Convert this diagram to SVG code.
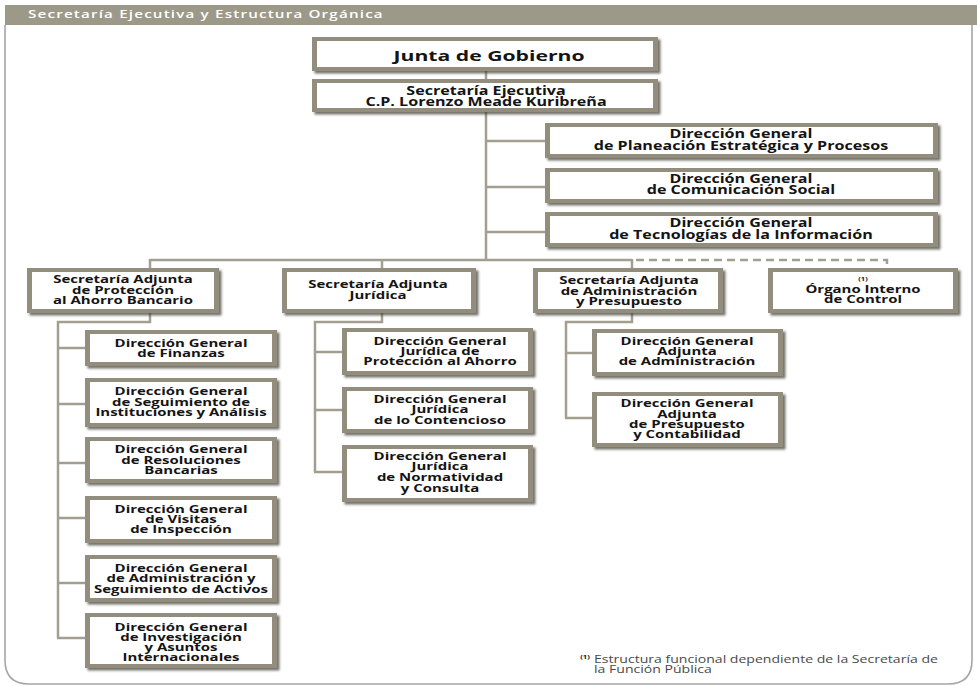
<svg xmlns="http://www.w3.org/2000/svg" width="977" height="686" viewBox="0 0 977 686">
<defs>
<filter id="sh" x="-10%" y="-20%" width="130%" height="160%">
<feDropShadow dx="2.5" dy="2.5" stdDeviation="1" flood-color="#3a372f" flood-opacity="0.7"/>
</filter>
<style>
.frame{fill:#928d7d;filter:url(#sh)}
.inner{fill:#ffffff}
.n{font-family:"Open Sans","Liberation Sans",sans-serif;font-weight:700;font-size:11.5px;fill:#141414;text-anchor:middle}
.s{font-size:11px}
.big{font-size:14.5px}
.sup{font-size:5.5px}
.c{fill:none;stroke:#a39f90;stroke-width:2.5}
.d{fill:none;stroke:#a39f90;stroke-width:2.5;stroke-dasharray:8 5}
.hdr{font-family:"Open Sans","Liberation Sans",sans-serif;font-weight:600;font-size:10.5px;fill:#ffffff;letter-spacing:0.8px}
.fn{font-family:"Open Sans","Liberation Sans",sans-serif;font-weight:400;font-size:10.5px;fill:#4a4a4a}
</style>
</defs>
<rect x="0" y="0" width="977" height="686" fill="#ffffff"/>
<g id="panel">
<path d="M5,25 V660 Q5,684 29,684 H948 Q972,684 972,660 V25" fill="#ffffff" stroke="#a6a6a6" stroke-width="1.6"/>
<rect x="5" y="5" width="972" height="20" fill="#9d9989"/>
<text class="hdr" transform="translate(28 0) scale(1.45 1)" x="0" y="18.5">Secretaría Ejecutiva y Estructura Orgánica</text>
</g>
<g id="connectors">
<path class="c" d="M486,71 V79 M486,112 V260 M486,141 H545 M486,187 H545 M486,232 H545"/>
<path class="c" d="M150,260 H632 M150,259 V268 M382,259 V268 M632,259 V268"/>
<path class="d" d="M636,260 H887 V268"/>
<path class="c" d="M150,313 V322 H58 V638 M58,348 H85 M58,404 H85 M58,463 H85 M58,518 H85 M58,583 H85 M57,638 H85"/>
<path class="c" d="M382,313 V322 H315 V472 M315,352 H342 M315,410 H342 M314,472 H342"/>
<path class="c" d="M632,313 V322 H566 V418 M566,353 H592 M565,418 H592"/>
</g>
<g id="junta">
<rect class="frame" x="312" y="37" width="346" height="34"/><rect class="inner" x="317" y="41" width="336" height="26"/>
<text class="n big" transform="translate(489 0) scale(1.46 1)"><tspan x="0" y="61">Junta de Gobierno</tspan></text>
</g>
<g id="secretaria-ejecutiva">
<rect class="frame" x="312" y="79" width="346" height="33"/><rect class="inner" x="317" y="83" width="336" height="25"/>
<text class="n" transform="translate(486 0) scale(1.4 1)"><tspan x="0" y="95">Secretaría Ejecutiva</tspan><tspan x="0" y="106">C.P. Lorenzo Meade Kuribreña</tspan></text>
</g>
<g id="dg-planeacion">
<rect class="frame" x="545" y="123" width="393" height="35"/><rect class="inner" x="550" y="127" width="383" height="27"/>
<text class="n" transform="translate(741 0) scale(1.4 1)"><tspan x="0" y="138">Dirección General</tspan><tspan x="0" y="150">de Planeación Estratégica y Procesos</tspan></text>
</g>
<g id="dg-comunicacion">
<rect class="frame" x="545" y="168" width="393" height="35"/><rect class="inner" x="550" y="172" width="383" height="27"/>
<text class="n" transform="translate(741 0) scale(1.4 1)"><tspan x="0" y="183">Dirección General</tspan><tspan x="0" y="194">de Comunicación Social</tspan></text>
</g>
<g id="dg-tecnologias">
<rect class="frame" x="545" y="212" width="393" height="35"/><rect class="inner" x="550" y="216" width="383" height="27"/>
<text class="n" transform="translate(741 0) scale(1.4 1)"><tspan x="0" y="227">Dirección General</tspan><tspan x="0" y="239">de Tecnologías de la Información</tspan></text>
</g>
<g id="sa-proteccion">
<rect class="frame" x="27" y="268" width="192" height="45"/><rect class="inner" x="32" y="272" width="182" height="37"/>
<text class="n s" transform="translate(123 0) scale(1.36 1)"><tspan x="0" y="283">Secretaría Adjunta</tspan><tspan x="0" y="294">de Protección</tspan><tspan x="0" y="304">al Ahorro Bancario</tspan></text>
</g>
<g id="sa-juridica">
<rect class="frame" x="282" y="268" width="194" height="45"/><rect class="inner" x="287" y="272" width="184" height="37"/>
<text class="n s" transform="translate(378 0) scale(1.36 1)"><tspan x="0" y="288">Secretaría Adjunta</tspan><tspan x="0" y="299">Jurídica</tspan></text>
</g>
<g id="sa-administracion">
<rect class="frame" x="533" y="268" width="190" height="45"/><rect class="inner" x="538" y="272" width="180" height="37"/>
<text class="n s" transform="translate(629 0) scale(1.36 1)"><tspan x="0" y="284">Secretaría Adjunta</tspan><tspan x="0" y="295">de Administración</tspan><tspan x="0" y="305">y Presupuesto</tspan></text>
</g>
<g id="organo-interno">
<rect class="frame" x="768" y="268" width="190" height="45"/><rect class="inner" x="773" y="272" width="180" height="37"/>
<text class="n s" transform="translate(863 0) scale(1.36 1)"><tspan class="sup" x="0" y="281">(1)</tspan><tspan x="0" y="293">Órgano Interno</tspan><tspan x="0" y="303">de Control</tspan></text>
</g>
<g id="dg-finanzas">
<rect class="frame" x="85" y="330" width="192" height="36"/><rect class="inner" x="90" y="334" width="182" height="28"/>
<text class="n s" transform="translate(181 0) scale(1.36 1)"><tspan x="0" y="347">Dirección General</tspan><tspan x="0" y="357">de Finanzas</tspan></text>
</g>
<g id="dg-seguimiento">
<rect class="frame" x="85" y="378" width="192" height="49"/><rect class="inner" x="90" y="382" width="182" height="41"/>
<text class="n s" transform="translate(181 0) scale(1.36 1)"><tspan x="0" y="395">Dirección General</tspan><tspan x="0" y="406">de Seguimiento de</tspan><tspan x="0" y="416">Instituciones y Análisis</tspan></text>
</g>
<g id="dg-resoluciones">
<rect class="frame" x="85" y="437" width="192" height="46"/><rect class="inner" x="90" y="441" width="182" height="38"/>
<text class="n s" transform="translate(181 0) scale(1.36 1)"><tspan x="0" y="453">Dirección General</tspan><tspan x="0" y="464">de Resoluciones</tspan><tspan x="0" y="474">Bancarias</tspan></text>
</g>
<g id="dg-visitas">
<rect class="frame" x="85" y="496" width="192" height="47"/><rect class="inner" x="90" y="500" width="182" height="39"/>
<text class="n s" transform="translate(181 0) scale(1.36 1)"><tspan x="0" y="513">Dirección General</tspan><tspan x="0" y="523">de Visitas</tspan><tspan x="0" y="533">de Inspección</tspan></text>
</g>
<g id="dg-activos">
<rect class="frame" x="85" y="555" width="192" height="47"/><rect class="inner" x="90" y="559" width="182" height="39"/>
<text class="n s" transform="translate(181 0) scale(1.36 1)"><tspan x="0" y="572">Dirección General</tspan><tspan x="0" y="582">de Administración y</tspan><tspan x="0" y="593">Seguimiento de Activos</tspan></text>
</g>
<g id="dg-investigacion">
<rect class="frame" x="85" y="613" width="192" height="55"/><rect class="inner" x="90" y="617" width="182" height="47"/>
<text class="n s" transform="translate(181 0) scale(1.36 1)"><tspan x="0" y="631">Dirección General</tspan><tspan x="0" y="641">de Investigación</tspan><tspan x="0" y="651">y Asuntos</tspan><tspan x="0" y="661">Internacionales</tspan></text>
</g>
<g id="dgj-proteccion">
<rect class="frame" x="342" y="328" width="191" height="47"/><rect class="inner" x="347" y="332" width="181" height="39"/>
<text class="n s" transform="translate(440 0) scale(1.36 1)"><tspan x="0" y="345">Dirección General</tspan><tspan x="0" y="355">Jurídica de</tspan><tspan x="0" y="365">Protección al Ahorro</tspan></text>
</g>
<g id="dgj-contencioso">
<rect class="frame" x="342" y="387" width="191" height="46"/><rect class="inner" x="347" y="391" width="181" height="38"/>
<text class="n s" transform="translate(440 0) scale(1.36 1)"><tspan x="0" y="403">Dirección General</tspan><tspan x="0" y="413">Jurídica</tspan><tspan x="0" y="424">de lo Contencioso</tspan></text>
</g>
<g id="dgj-normatividad">
<rect class="frame" x="342" y="445" width="191" height="57"/><rect class="inner" x="347" y="449" width="181" height="49"/>
<text class="n s" transform="translate(440 0) scale(1.36 1)"><tspan x="0" y="460">Dirección General</tspan><tspan x="0" y="470">Jurídica</tspan><tspan x="0" y="481">de Normatividad</tspan><tspan x="0" y="492">y Consulta</tspan></text>
</g>
<g id="dga-administracion">
<rect class="frame" x="592" y="329" width="191" height="47"/><rect class="inner" x="597" y="333" width="181" height="39"/>
<text class="n s" transform="translate(687 0) scale(1.36 1)"><tspan x="0" y="345">Dirección General</tspan><tspan x="0" y="355">Adjunta</tspan><tspan x="0" y="365">de Administración</tspan></text>
</g>
<g id="dga-presupuesto">
<rect class="frame" x="592" y="392" width="191" height="55"/><rect class="inner" x="597" y="396" width="181" height="47"/>
<text class="n s" transform="translate(687 0) scale(1.36 1)"><tspan x="0" y="407">Dirección General</tspan><tspan x="0" y="418">Adjunta</tspan><tspan x="0" y="428">de Presupuesto</tspan><tspan x="0" y="438">y Contabilidad</tspan></text>
</g>
<g id="footnote">
<text class="n sup" transform="translate(585 0) scale(1.4 1)" x="0" y="659">(1)</text>
<text class="fn" transform="translate(594 0) scale(1.34 1)"><tspan x="0" y="663">Estructura funcional dependiente de la Secretaría de</tspan><tspan x="0" y="673">la Función Pública</tspan></text>
</g>
</svg>
